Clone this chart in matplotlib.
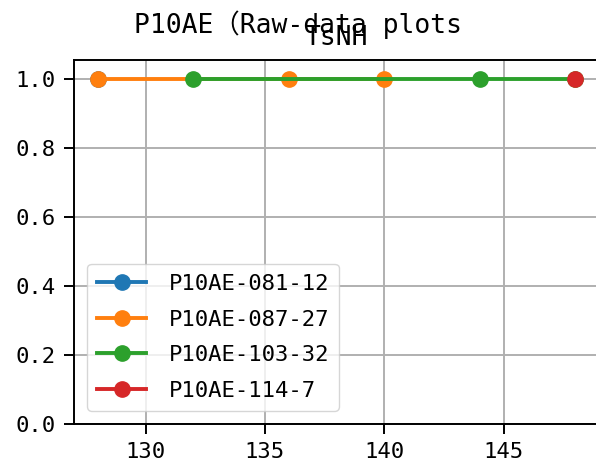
import matplotlib
matplotlib.use("Agg")
import matplotlib.pyplot as plt

plt.rcParams['font.family'] = ['DejaVu Sans Mono', 'Noto Sans CJK SC']

# series data
labels = ["P10AE-081-12", "P10AE-087-27", "P10AE-103-32", "P10AE-114-7"]
x_081 = [128]
y_081 = [1.0]
x_087 = [128, 136, 140]
y_087 = [1.0, 1.0, 1.0]
x_103 = [132, 144, 148]
y_103 = [1.0, 1.0, 1.0]
x_114 = [148]
y_114 = [1.0]

fig = plt.figure(figsize=(5.96, 4.65), dpi=100)
ax = fig.add_axes([74 / 596, 1 - 424 / 465, 525 / 596, (424 - 60) / 465])

for xs, ys, lab in [(x_081, y_081, labels[0]), (x_087, y_087, labels[1]),
                    (x_103, y_103, labels[2]), (x_114, y_114, labels[3])]:
    ax.plot(xs, ys, marker="o", lw=2.8, ms=11, label=lab)

ax.set_xlim(127, 149)
ax.set_ylim(0, 1.055)
ax.set_xticks([130, 135, 140, 145])
ax.grid(True, lw=1.4)
ax.tick_params(labelsize=16, width=1.4, length=7, pad=6)
for s in ax.spines.values():
    s.set_linewidth(1.4)

ax.set_title("TsNH", fontsize=19, pad=11)
fig.suptitle("P10AE（Raw-data plots", fontsize=19, y=0.978)
ax.legend(loc="lower left", fontsize=16, borderpad=0.45, handlelength=2.2,
          labelspacing=0.70, handletextpad=1.0, borderaxespad=0.6)

fig.savefig("out.png", dpi=100)
